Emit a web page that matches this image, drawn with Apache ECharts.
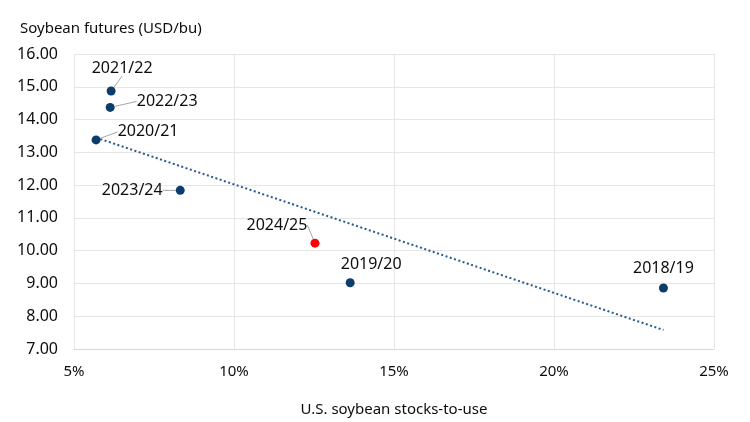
<!DOCTYPE html>
<html>
<head>
<meta charset="utf-8">
<script src="https://cdn.jsdelivr.net/npm/echarts@6/dist/echarts.min.js"></script>
<style>
  html, body { margin: 0; padding: 0; background: #fff; }
  #chart { width: 750px; height: 422px; }
</style>
</head>
<body>
<div id="chart"></div>
<script>
  // marketing years, stocks-to-use (%) and soybean futures (USD/bu)
  const years = ['2018/19', '2019/20', '2020/21', '2021/22', '2022/23', '2023/24'];
  const stocksToUse = [23.42, 13.63, 5.69, 6.16, 6.13, 8.32];
  const futures = [8.86, 9.02, 13.38, 14.87, 14.37, 11.84];

  const currentYear = ['2024/25'];
  const currentStocks = [12.53];
  const currentFutures = [10.23];

  // linear trend end points
  const trendX = [5.69, 23.42];
  const trendY = [13.45, 7.58];

  // label offsets from the point (px), and which labels get a leader line
  const labelShift = {
    '2018/19': [0, -20, false],
    '2019/20': [21, -18, false],
    '2020/21': [52, -8, true],
    '2021/22': [11, -23, true],
    '2022/23': [57, -6, true],
    '2023/24': [-48, 0, true],
    '2024/25': [-38, -18, true]
  };

  const font = 'Noto Sans';
  const textColor = '#0d0d0d';

  function points(names, xs, ys) {
    return names.map(function (n, i) {
      return {
        name: n,
        value: [xs[i], ys[i]],
        labelLine: { show: labelShift[n][2] }
      };
    });
  }

  let myChart = echarts.init(document.getElementById('chart'));
  myChart.setOption({
    animation: false,
    backgroundColor: '#fff',
    textStyle: { fontFamily: font, color: textColor },
    title: {
      text: 'Soybean futures (USD/bu)',
      left: 15,
      top: 16,
      textStyle: { fontFamily: font, fontSize: 15, fontWeight: 'normal', color: textColor }
    },
    grid: { left: 74, right: 36, top: 54, bottom: 71 },
    xAxis: {
      type: 'value',
      min: 5,
      max: 25,
      interval: 5,
      name: 'U.S. soybean stocks-to-use',
      nameLocation: 'middle',
      nameGap: 53,
      nameTextStyle: { fontFamily: font, fontSize: 15, color: textColor },
      axisLine: { show: true, lineStyle: { color: '#D9D9D9' } },
      axisTick: { show: false },
      axisLabel: {
        margin: 15,
        fontFamily: font,
        fontSize: 15,
        color: textColor,
        formatter: function (v) { return v + '%'; }
      },
      splitLine: { show: true, lineStyle: { color: '#E6E6E6' } }
    },
    yAxis: {
      type: 'value',
      min: 7,
      max: 16,
      interval: 1,
      axisLine: { show: false },
      axisTick: { show: false },
      axisLabel: {
        margin: 16,
        fontFamily: font,
        fontSize: 16,
        color: textColor,
        formatter: function (v) { return v.toFixed(2); }
      },
      splitLine: { show: true, lineStyle: { color: '#E6E6E6' } }
    },
    series: [
      {
        name: 'trend',
        type: 'line',
        data: trendX.map(function (x, i) { return [x, trendY[i]]; }),
        showSymbol: false,
        symbol: 'none',
        lineStyle: { color: '#255A8F', width: 2, type: [2, 2.5] },
        z: 1
      },
      {
        name: 'history',
        type: 'scatter',
        data: points(years, stocksToUse, futures),
        symbolSize: 9,
        itemStyle: { color: '#0B3C6B', opacity: 1 },
        z: 3
      },
      {
        name: 'current',
        type: 'scatter',
        data: points(currentYear, currentStocks, currentFutures),
        symbolSize: 9,
        itemStyle: { color: '#FF0000', opacity: 1 },
        z: 3
      }
    ].map(function (s) {
      if (s.type !== 'scatter') return s;
      s.label = {
        show: true,
        position: 'inside',
        formatter: '{b}',
        fontFamily: font,
        fontSize: 16,
        color: textColor
      };
      s.labelLine = { show: true, lineStyle: { color: '#A6A6A6', width: 1 } };
      s.labelLayout = function (params) {
        const sh = labelShift[params.text];
        return { dx: sh[0], dy: sh[1] };
      };
      return s;
    })
  });
</script>
</body>
</html>
